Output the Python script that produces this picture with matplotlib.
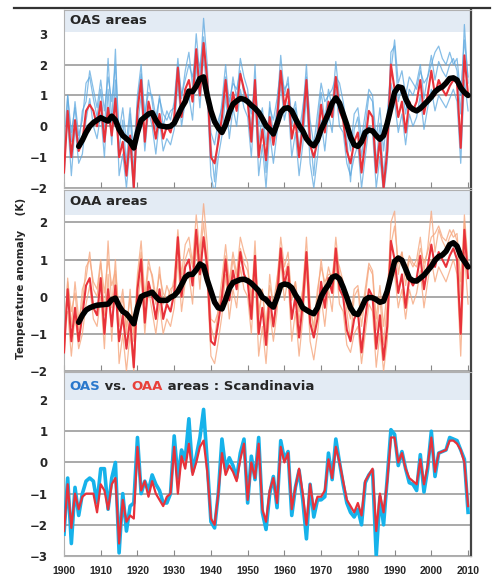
#!/usr/bin/env python3
"""Temperature anomaly panels: OAS areas, OAA areas, Scandinavia comparison."""

from __future__ import annotations

import matplotlib as mpl

mpl.use("Agg")
import matplotlib.pyplot as plt
from matplotlib.lines import Line2D

years = list(range(1900, 2011))
smooth_years = list(range(1904, 2011))

# --- panel 1: OAS areas -------------------------------------------------
oas_station_a = [
    -1.8, 1.0, -0.5, 0.8, -0.3, 0.2, 1.4, 1.6, 0.9, 0.3,
    1.2, -0.2, 2.2, 0.1, 2.5, -0.8, 0.2, -1.2, 0.4, -1.5,
    1.0, 2.0, 0.2, 1.5, 0.8, -0.1, 1.0, 0.0, 0.5, 0.2,
    0.8, 2.2, 0.9, 1.8, 2.4, 1.3, 3.0, 1.6, 3.5, 2.0,
    -0.6, -1.8, -0.2, 0.8, 2.0, 0.6, 1.6, 0.9, 2.2, 1.6,
    1.2, -0.2, 2.0, -0.6, 0.4, -1.5, 0.8, -0.3, 0.6, 2.3,
    1.0, 1.6, 0.0, 0.6, -0.8, 0.4, 2.0, -0.2, -1.6, 0.0,
    1.1, 0.2, 1.2, 0.6, 2.1, 0.9, 0.6, -0.4, -1.8, -0.1,
    0.3, -1.0, 0.0, 1.0, 0.8, -1.2, 0.1, -1.6, -0.3, 2.4,
    2.6, 0.8, 1.3, 0.4, 1.2, 1.0, 1.4, 2.0, 0.9, 1.6,
    2.3, 1.5, 2.1, 1.8, 1.6, 2.0, 2.2, 1.8, 0.4, 3.3,
    1.4,
]
oas_station_b = [
    -1.0, 0.2, -1.6, 0.0, -1.2, -0.9, 0.2, 0.9, 0.0, -0.4,
    0.4, -1.0, 1.2, -0.6, 1.5, -1.6, -0.9, -2.0, -0.6, -2.2,
    0.0, 1.0, -0.8, 0.5, 0.0, -0.9, 0.2, -0.8, -0.4, -0.6,
    -0.1, 1.4, 0.0, 0.8, 1.0, 0.2, 2.0, 0.6, 2.3, 1.0,
    -1.6, -2.2, -1.0, -0.3, 1.0, -0.4, 0.6, 0.0, 1.2, 0.6,
    0.3, -1.0, 1.0, -1.6, -0.6, -2.0, -0.2, -1.2, -0.2, 1.4,
    0.2, 0.8, -1.0, -0.2, -1.6, -0.6, 1.0, -1.2, -2.0, -1.0,
    0.2, -0.8, 0.4, -0.2, 1.2, 0.0, -0.2, -1.2, -1.6, -1.0,
    -0.6, -2.0, -1.0, 0.0, -0.2, -2.0, -1.0, -2.2, -1.2, 1.4,
    0.8, -0.2, 0.4, -0.6, 0.4, 0.0, 0.3, 1.0, -0.1, 0.6,
    1.2, 0.5, 1.0, 0.8, 0.6, 0.9, 1.2, 0.8, -1.2, 1.5,
    0.5,
]
oas_station_c = [
    -0.5, 1.0, -0.2, 0.6, -0.6, 0.5, 0.8, 1.8, 1.2, 0.6,
    1.5, 0.5, 1.6, 0.8, 2.0, -0.2, 0.6, -0.5, 0.6, -0.8,
    0.8, 1.7, 0.4, 1.1, 1.0, 0.3, 0.9, 0.4, 0.2, 0.5,
    0.6, 2.0, 1.0, 1.5, 2.0, 1.6, 2.4, 1.9, 2.9, 1.4,
    -0.2, -0.6, 0.2, 0.6, 1.6, 0.8, 1.4, 1.2, 1.8, 1.0,
    1.0, 0.4, 1.4, 0.0, 0.6, -0.6, 0.6, 0.2, 0.9, 1.8,
    1.2, 1.4, 0.3, 0.8, -0.2, 0.6, 1.6, 0.2, -0.6, 0.4,
    1.4, 0.8, 1.0, 1.2, 1.6, 1.4, 0.8, 0.0, -0.8, 0.4,
    0.6, -0.4, 0.4, 1.2, 1.0, -0.4, 0.6, -0.8, 0.4, 1.8,
    2.8, 1.4, 1.8, 1.0, 1.6, 1.4, 1.2, 1.8, 1.4, 1.6,
    2.0, 2.4, 2.6, 2.2, 2.0, 2.4, 2.0, 2.2, 1.0, 2.8,
    1.6,
]
oas_red = [
    -1.5, 0.5, -1.0, 0.2, -0.8, -0.5, 0.5, 0.7, 0.5, 0.0,
    0.8, -0.5, 0.6, -0.3, 0.9, -1.0, -0.5, -1.6, -0.3, -2.0,
    0.5, 1.5, -0.5, 0.8, 0.3, -0.4, 0.4, -0.4, 0.0, -0.2,
    0.3, 1.9, 0.3, 1.2, 1.5, 0.8, 2.5, 1.0, 2.7, 1.5,
    -1.0, -1.2, -0.5, 0.3, 1.5, 0.2, 1.1, 0.5, 1.7, 1.2,
    0.8, -0.5, 1.5, -1.0, -0.1, -1.1, 0.3, -0.6, 0.2, 1.8,
    0.6, 1.2, -0.4, 0.2, -1.0, 0.0, 1.5, -0.6, -1.0, -0.5,
    0.7, -0.2, 0.8, 0.3, 1.6, 0.5, 0.2, -0.8, -1.2, -0.5,
    -0.2, -1.5, -0.5, 0.5, 0.3, -1.5, -0.4, -2.0, -0.8, 2.0,
    1.2, 0.3, 0.8, -0.2, 0.8, 0.5, 0.8, 1.5, 0.4, 1.0,
    1.8, 1.0, 1.5, 1.2, 1.0, 1.3, 1.5, 1.4, -0.7, 2.3,
    1.0,
]
oas_smooth = [
    -0.65, -0.45, -0.2, 0.0, 0.12, 0.2,
    0.28, 0.22, 0.17, 0.33, 0.2, -0.1, -0.3, -0.4, -0.5, -0.7,
    -0.2, 0.2, 0.3, 0.4, 0.44, 0.2, 0.02, 0.0, -0.02, 0.0,
    0.1, 0.35, 0.6, 0.8, 1.14, 1.12, 1.3, 1.55, 1.6, 1.0,
    0.5, 0.15, -0.05, -0.2, 0.05, 0.45, 0.72, 0.82, 0.9, 0.88,
    0.8, 0.68, 0.58, 0.45, 0.25, 0.02, -0.1, -0.25, 0.08, 0.45,
    0.58, 0.6, 0.5, 0.25, 0.02, -0.15, -0.4, -0.55, -0.63, -0.45,
    -0.1, 0.15, 0.42, 0.75, 0.92, 0.75, 0.4, 0.05, -0.35, -0.6,
    -0.65, -0.5, -0.2, -0.12, -0.15, -0.3, -0.42, -0.3, 0.1, 0.6,
    1.1, 1.28, 1.25, 0.9, 0.65, 0.55, 0.5, 0.58, 0.7, 0.82,
    0.95, 1.12, 1.22, 1.28, 1.4, 1.55, 1.57, 1.5, 1.25, 1.1,
    1.0,
]

# --- panel 2: OAA areas -------------------------------------------------
oaa_station_a = [
    -1.8, 0.5, -0.8, 0.4, -0.6, -0.2, 0.8, 1.0, 0.4, 0.2,
    1.0, -0.5, 1.5, -0.3, 1.0, -0.8, 0.0, -0.8, 0.0, -1.0,
    0.6, 1.5, 0.0, 1.0, 0.5, -0.2, 0.8, -0.2, 0.3, 0.0,
    0.5, 1.8, 0.6, 1.4, 1.6, 0.9, 2.2, 1.2, 2.5, 1.4,
    -0.8, -1.2, -0.3, 0.5, 1.4, 0.4, 1.2, 0.6, 1.6, 1.2,
    0.9, -0.2, 1.5, -0.6, 0.2, -1.0, 0.6, -0.3, 0.4, 1.6,
    0.8, 1.2, -0.1, 0.4, -0.7, 0.2, 1.6, -0.2, -1.0, 0.0,
    1.0, 0.2, 0.8, 0.4, 1.6, 0.6, 0.4, -0.4, -1.2, 0.0,
    0.2, -0.8, 0.0, 0.8, 0.6, -0.9, 0.0, -1.3, -0.2, 2.0,
    2.3, 0.6, 1.2, 0.3, 1.0, 0.8, 1.0, 1.6, 0.7, 1.3,
    2.3, 1.2, 1.8, 1.5, 1.3, 1.6, 1.8, 1.5, 0.0, 2.2,
    0.9,
]
oaa_station_b = [
    -0.6, -0.4, -1.6, -0.5, -1.4, -1.0, -0.2, 0.3, -0.6, -0.8,
    0.0, -1.4, 0.6, -1.2, 0.6, -1.8, -1.0, -2.0, -1.0, -2.0,
    -0.2, 0.6, -1.0, 0.2, -0.4, -1.0, -0.2, -1.0, -0.6, -0.8,
    -0.3, 1.0, -0.4, 0.4, 0.6, -0.2, 1.4, 0.2, 1.6, 0.4,
    -1.6, -1.8, -1.2, -0.5, 0.6, -0.6, 0.2, -0.3, 0.8, 0.2,
    0.0, -1.0, 0.6, -1.6, -0.8, -1.8, -0.4, -1.2, -0.4, 1.0,
    -0.1, 0.5, -1.2, -0.4, -1.6, -0.6, 0.8, -1.2, -1.7, -1.0,
    0.0, -0.8, 0.2, -0.4, 0.9, -0.2, -0.4, -1.3, -1.5, -1.0,
    -0.8, -1.8, -1.0, -0.2, -0.4, -1.9, -1.0, -2.0, -1.2, 1.0,
    0.6, -0.3, 0.2, -0.6, 0.2, -0.2, 0.1, 0.7, -0.3, 0.4,
    1.0, 0.4, 0.8, 0.6, 0.4, 0.7, 1.0, 0.6, -1.6, 1.2,
    -0.2,
]
oaa_station_c = [
    -1.0, 0.4, -0.4, 0.1, -0.9, 0.2, 0.5, 1.2, 0.2, 0.0,
    0.9, 0.1, 1.0, 0.3, 0.7, -0.4, 0.2, -1.0, 0.2, -1.2,
    0.4, 1.2, -0.2, 0.8, 0.6, 0.0, 0.6, 0.1, -0.1, 0.2,
    0.3, 1.4, 0.4, 1.0, 1.3, 0.8, 1.7, 1.0, 2.0, 0.9,
    -0.6, -0.7, -0.4, 0.2, 1.1, 0.2, 1.0, 0.5, 1.3, 0.9,
    0.7, 0.0, 1.0, -0.4, 0.2, -0.8, 0.3, -0.2, 0.5, 1.2,
    0.6, 0.9, 0.0, 0.4, -0.4, 0.2, 1.2, -0.3, -0.8, 0.2,
    0.8, 0.4, 0.6, 0.6, 1.1, 0.8, 0.4, -0.2, -0.6, 0.2,
    0.3, -0.5, 0.2, 0.9, 0.7, -0.6, 0.3, -0.8, 0.2, 1.4,
    1.9, 0.9, 1.2, 0.6, 1.1, 0.9, 0.8, 1.3, 0.9, 1.2,
    1.6, 1.7, 1.9, 1.6, 1.5, 1.8, 1.6, 1.7, 0.4, 2.0,
    0.7,
]
oaa_red = [
    -1.5, 0.2, -1.2, -0.3, -1.2, -0.5, 0.3, 0.5, -0.3, -0.5,
    0.5, -1.0, 0.2, -0.8, 0.3, -1.2, -0.5, -1.4, -0.6, -1.9,
    0.2, 1.0, -0.7, 0.4, 0.0, -0.6, 0.2, -0.6, -0.2, -0.4,
    0.1, 1.6, 0.0, 0.8, 1.0, 0.3, 1.8, 0.6, 1.6, 0.8,
    -1.2, -1.3, -0.7, 0.0, 1.0, -0.1, 0.7, 0.2, 1.2, 0.6,
    0.4, -0.6, 1.1, -1.0, -0.3, -1.3, 0.0, -0.8, 0.0, 1.3,
    0.3, 0.8, -0.6, 0.0, -1.1, -0.2, 1.2, -0.7, -1.1, -0.6,
    0.4, -0.3, 0.5, 0.1, 1.3, 0.2, 0.0, -0.9, -1.2, -0.6,
    -0.4, -1.5, -0.6, 0.2, 0.0, -1.4, -0.5, -1.7, -0.8, 1.5,
    1.0, 0.1, 0.6, -0.3, 0.5, 0.3, 0.5, 1.1, 0.2, 0.8,
    1.4, 0.8, 1.2, 1.0, 0.8, 1.1, 1.3, 1.0, -1.0, 1.8,
    0.5,
]
oaa_smooth = [
    -0.69, -0.5, -0.36, -0.3, -0.26, -0.23,
    -0.22, -0.21, -0.2, -0.08, -0.04, -0.25, -0.4, -0.46, -0.58, -0.73,
    -0.3, 0.0, 0.05, 0.08, 0.12, 0.0, -0.1, -0.1, -0.1, -0.02,
    0.03, 0.14, 0.32, 0.52, 0.6, 0.6, 0.72, 0.88, 0.82, 0.45,
    0.15, -0.15, -0.3, -0.33, -0.08, 0.22, 0.38, 0.42, 0.46, 0.47,
    0.43, 0.36, 0.26, 0.16, -0.02, -0.08, -0.2, -0.28, -0.02, 0.3,
    0.34, 0.32, 0.24, 0.05, -0.1, -0.3, -0.36, -0.42, -0.46, -0.3,
    0.0, 0.18, 0.32, 0.52, 0.56, 0.48, 0.25, -0.02, -0.3, -0.45,
    -0.48, -0.3, -0.08, -0.02, -0.03, -0.08, -0.15, -0.12, 0.15, 0.55,
    0.95, 1.04, 0.98, 0.75, 0.5, 0.43, 0.42, 0.5, 0.58, 0.7,
    0.82, 0.98, 1.08, 1.12, 1.22, 1.4, 1.45, 1.36, 1.1, 0.95,
    0.8,
]

# --- panel 3: Scandinavia -----------------------------------------------
scand_oas = [
    -2.3, -0.5, -2.6, -0.8, -1.7, -1.0, -0.6, -0.5, -0.6, -1.3,
    -0.2, -0.2, -1.5, -0.5, 0.0, -2.9, -1.0, -2.2, -1.4, -1.3,
    0.8, -1.0, -0.6, -0.9, -0.4, -0.7, -0.9, -1.3, -1.3, -1.0,
    0.85, -0.5, 0.4, 0.1, 1.4, -0.3, 0.2, 0.8, 1.7, 0.0,
    -1.9, -2.1, -1.0, 0.75, -0.2, 0.15, -0.1, -0.5, 0.3, 0.75,
    -1.3, 0.2, -0.55, 0.8, -1.6, -2.15, -1.0, -0.45, -1.45, 0.7,
    0.1, 0.35, -1.7, -0.8, -0.25, -1.2, -2.45, -0.7, -1.75, -1.2,
    -1.2, -1.1, 0.3, -0.55, 0.75, 0.0, -0.7, -1.3, -1.6, -1.75,
    -1.5, -2.0, -0.65, -0.4, -0.25, -3.0, -1.1, -2.0, -0.5, 1.05,
    0.9, -0.1, 0.35, -0.2, -0.65, -0.7, -0.9, 0.25, -0.95, -0.2,
    1.0, -0.45, 0.3, 0.35, 0.4, 0.8, 0.75, 0.7, 0.4, 0.1,
    -1.6,
]
scand_oaa = [
    -2.2, -0.7, -2.1, -1.0, -1.5, -1.1, -1.0, -1.0, -1.0, -1.6,
    -0.7, -0.9, -1.5, -0.7, -0.5, -2.6, -1.2, -1.9, -1.7, -1.8,
    0.5, -0.9, -0.6, -1.1, -0.6, -1.0, -1.2, -1.4, -1.1, -1.0,
    0.5, -1.0, 0.2, -0.2, 0.6, -0.4, 0.0, 0.5, 0.7, -0.3,
    -1.8, -2.0, -1.0, 0.3, -0.4, -0.1, -0.3, -0.6, 0.1, 0.6,
    -1.2, 0.0, -0.5, 0.6, -1.5, -1.9, -0.9, -0.5, -1.3, 0.5,
    0.0, 0.3, -1.5, -0.8, -0.2, -1.0, -2.0, -0.7, -1.5, -1.1,
    -1.1, -0.9, 0.1, -0.5, 0.5, 0.0, -0.6, -1.2, -1.4, -1.6,
    -1.3, -1.7, -0.6, -0.4, -0.2, -2.2, -1.0, -1.6, -0.6, 0.8,
    0.8, 0.0, 0.3, -0.2, -0.5, -0.6, -0.7, 0.1, -0.7, -0.1,
    0.8, -0.3, 0.3, 0.35, 0.4, 0.7, 0.7, 0.6, 0.4, 0.0,
    -1.4,
]

x_ticks = list(range(1900, 2011, 10))

BAND = "#e3ebf4"
GRID = "#a3a3a3"
RED = "#e8323a"
BLUE_THIN = "#5ea8df"
ORANGE_THIN = "#f6a77f"
CYAN = "#16b2ea"
TEXT = "#262626"


def style_axis(axis, y_lo, y_hi, ticks, band_lo):
    """Common frame, grid, ticks and title band for one panel."""
    axis.set_xlim(1900, 2010.8)
    axis.set_ylim(y_lo, y_hi)
    axis.set_yticks(ticks)
    axis.set_xticks(x_ticks)
    axis.axhspan(band_lo, y_hi, color=BAND, zorder=0, lw=0)
    for value in ticks:
        if value < band_lo - 0.05:
            axis.axhline(value, color=GRID, lw=1.3, zorder=1)
    axis.tick_params(axis="y", length=0, pad=12, labelsize=8.5, labelcolor=TEXT)
    axis.tick_params(axis="x", direction="in", length=4, color="#888888", width=0.8)
    for label in axis.get_yticklabels():
        label.set_fontweight("bold")
    for side in ("left", "top", "bottom"):
        axis.spines[side].set_color("#b0b0b0")
        axis.spines[side].set_linewidth(0.8)
    axis.spines["right"].set_color("#444444")
    axis.spines["right"].set_linewidth(1.6)


def title(axis, y_value, parts):
    """Write a title made of coloured pieces inside the band."""
    prev = axis.text(1901.5, y_value, parts[0][0], color=parts[0][1],
                     fontsize=9.5, fontweight="bold", va="center", zorder=6)
    for text, color in parts[1:]:
        prev = axis.annotate(text, xy=(1, 0.5), xycoords=prev, va="center",
                             color=color, fontsize=9.5, fontweight="bold", zorder=6)


def main() -> None:
    figure = plt.figure(figsize=(4.92, 5.81), dpi=100)
    left, width = 64 / 492, 407 / 492
    ax1 = figure.add_axes([left, 1 - 188 / 581, width, 178 / 581])
    ax2 = figure.add_axes([left, 1 - 371 / 581, width, 181 / 581])
    ax3 = figure.add_axes([left, 1 - 556 / 581, width, 184 / 581])

    style_axis(ax1, -2, 3.77, [-2, -1, 0, 1, 2, 3], 3.05)
    for series in (oas_station_b, oas_station_c, oas_station_a):
        ax1.plot(years, series, color=BLUE_THIN, lw=0.9, alpha=0.75, zorder=2)
    ax1.plot(years, oas_red, color=RED, lw=1.5, zorder=3)
    ax1.plot(smooth_years, oas_smooth, color="black", lw=4, zorder=4,
             solid_capstyle="round")
    title(ax1, 3.42, [("OAS areas", TEXT)])
    ax1.set_xticklabels([])

    style_axis(ax2, -2, 2.87, [-2, -1, 0, 1, 2], 2.2)
    for series in (oaa_station_b, oaa_station_c, oaa_station_a):
        ax2.plot(years, series, color=ORANGE_THIN, lw=0.9, alpha=0.8, zorder=2)
    ax2.plot(years, oaa_red, color=RED, lw=1.5, zorder=3)
    ax2.plot(smooth_years, oaa_smooth, color="black", lw=4, zorder=4,
             solid_capstyle="round")
    title(ax2, 2.55, [("OAA areas", TEXT)])
    ax2.set_xticklabels([])

    style_axis(ax3, -3, 2.9, [-3, -2, -1, 0, 1, 2], 2.0)
    ax3.plot(years, scand_oas, color=CYAN, lw=2.6, zorder=3)
    ax3.plot(years, scand_oaa, color=RED, lw=1.6, zorder=4)
    title(ax3, 2.45, [("OAS", "#2a78cc"), (" vs. ", TEXT), ("OAA", "#e8403a"),
                      (" areas : Scandinavia", TEXT)])
    ax3.tick_params(axis="x", pad=7, labelsize=7.5, labelcolor=TEXT)
    for label in ax3.get_xticklabels():
        label.set_fontfamily("Liberation Sans")
        label.set_fontweight("bold")

    figure.text(0.042, 0.52, "Temperature anomaly    (K)", rotation=90,
                ha="center", va="center", fontsize=7.5, fontweight="bold",
                color=TEXT)
    figure.add_artist(Line2D([14 / 492, 490 / 492], [1 - 8 / 581, 1 - 8 / 581],
                             color="#333333", lw=1.6))

    figure.savefig("out.png", dpi=100)
    plt.close(figure)


if __name__ == "__main__":
    main()
